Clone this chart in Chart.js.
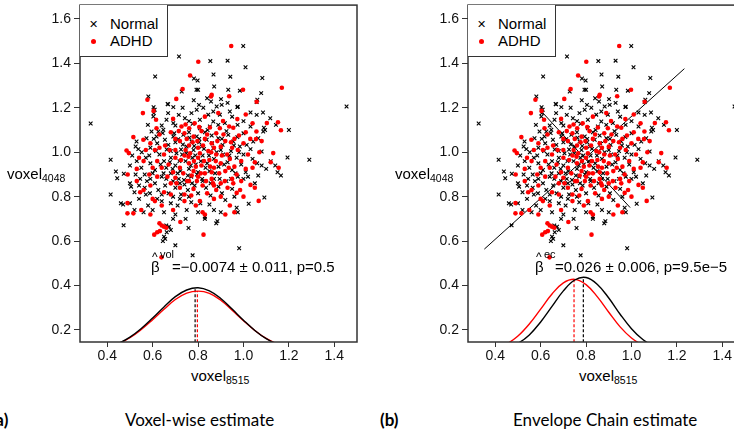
<!DOCTYPE html>
<html lang="en">

<head>
  <meta charset="UTF-8">
  <title>Voxel-wise vs Envelope Chain estimate</title>
  <style>
    body {
      margin: 0;
      width: 734px;
      height: 433px;
      overflow: hidden;
      background: #fff;
      position: relative;
      font-family: "Liberation Sans", Arial, sans-serif;
      color: #000;
    }

    .panel {
      position: absolute;
      top: 0;
      width: 370px;
      height: 362px;
    }

    .txt {
      position: absolute;
      white-space: nowrap;
      line-height: 1;
      font-size: 15px;
    }

    .txt sub {
      font-size: 10.5px;
      vertical-align: -3px;
    }

    .legend {
      position: absolute;
      top: 5px;
      width: 87px;
      height: 51px;
      border: 1.5px solid #333;
      border-left: none;
      border-top: none;
      background: #fff;
      font-size: 15px;
    }

    .legend .row {
      position: absolute;
      left: 6px;
      line-height: 1;
      white-space: nowrap;
    }

    .mk {
      display: inline-block;
      width: 14px;
      text-align: center;
      margin-right: 10px;
      font-size: 11px;
      vertical-align: 1px;
    }

    .dot {
      display: inline-block;
      width: 5px;
      height: 5px;
      border-radius: 50%;
      background: #ff0000;
      vertical-align: 1px;
    }

    .cap {
      position: absolute;
      top: 411px;
      font-family: Lato, sans-serif;
      font-size: 17px;
      line-height: 1;
      white-space: nowrap;
    }
  </style>
  <script src="https://cdn.jsdelivr.net/npm/chart.js"></script>
</head>

<body>
  <div class="panel" style="left:0px"><canvas id="chartA" width="370" height="362"></canvas></div>
  <div class="panel" style="left:388px"><canvas id="chartB" width="370" height="362"></canvas></div>

  <!-- panel (a) texts -->
  <div class="legend" style="left:80px">
    <div class="row" style="top:11px"><span class="mk">&#x2715;</span>Normal</div>
    <div class="row" style="top:28px"><span class="mk"><span class="dot"></span></span>ADHD</div>
  </div>
  <div class="txt" style="left:7px;top:166px">voxel<sub>4048</sub></div>
  <div class="txt" style="left:191px;top:368px">voxel<sub>8515</sub></div>
  <div class="txt" style="left:152px;top:251px;font-size:12px">^</div>
  <div class="txt" style="left:151px;top:259px">β</div>
  <div class="txt" style="left:160px;top:249px;font-size:11px">vol</div>
  <div class="txt" style="left:172px;top:259px">=−0.0074 ± 0.011, p=0.5</div>
  <div class="cap" style="left:-9px;font-weight:bold">(a)</div>
  <div class="cap" style="left:125px">Voxel-wise estimate</div>

  <!-- panel (b) texts -->
  <div class="legend" style="left:468px">
    <div class="row" style="top:11px"><span class="mk">&#x2715;</span>Normal</div>
    <div class="row" style="top:28px"><span class="mk"><span class="dot"></span></span>ADHD</div>
  </div>
  <div class="txt" style="left:395px;top:166px">voxel<sub>4048</sub></div>
  <div class="txt" style="left:579px;top:368px">voxel<sub>8515</sub></div>
  <div class="txt" style="left:536px;top:251px;font-size:12px">^</div>
  <div class="txt" style="left:535px;top:259px">β</div>
  <div class="txt" style="left:544px;top:249px;font-size:11px">ec</div>
  <div class="txt" style="left:555px;top:259px">=0.026 ± 0.006, p=9.5e−5</div>
  <div class="cap" style="left:380px;font-weight:bold">(b)</div>
  <div class="cap" style="left:513px">Envelope Chain estimate</div>

  <script>
    // axis ticks
    const xTicks = [0.4, 0.6, 0.8, 1.0, 1.2, 1.4];
    const yTicks = [0.2, 0.4, 0.6, 0.8, 1.0, 1.2, 1.4, 1.6];

    // scatter points [voxel8515, voxel4048]
    const normalPts = [
      [0.716, 1.431], [0.854, 1.410], [0.930, 1.412], [0.999, 1.478], [1.009, 1.382], [0.611, 1.341], [0.868, 1.350],
      [0.942, 1.340], [1.083, 1.334], [0.782, 1.332], [0.798, 1.323], [0.871, 1.296], [0.800, 1.281], [0.793, 1.281],
      [0.933, 1.281], [0.984, 1.277], [1.078, 1.266], [0.728, 1.273], [0.581, 1.251], [0.840, 1.243], [0.857, 1.228],
      [0.901, 1.239], [0.781, 1.234], [1.061, 1.236], [1.058, 1.226], [0.668, 1.216], [0.804, 1.213], [0.882, 1.206],
      [0.904, 1.213], [0.930, 1.222], [0.975, 1.205],
      [0.604, 1.203], [0.605, 1.176], [0.666, 1.217], [0.691, 1.203], [0.668, 1.176], [0.732, 1.200], [0.771, 1.176],
      [0.794, 1.191], [0.823, 1.200], [0.845, 1.169], [0.867, 1.183], [0.896, 1.169], [0.940, 1.183], [0.973, 1.203],
      [1.031, 1.179], [1.058, 1.168], [1.086, 1.179], [1.118, 1.153], [1.143, 1.123], [1.200, 1.100], [1.087, 1.093],
      [1.031, 1.116], [0.974, 1.123], [0.579, 1.123], [0.603, 1.161], [0.661, 1.146], [0.691, 1.131], [0.742, 1.153],
      [0.808, 1.146], [0.867, 1.138], [0.918, 1.131], [0.808, 1.108], [0.852, 1.116], [0.889, 1.123], [0.776, 1.128],
      [0.647, 1.101], [0.625, 1.093], [0.715, 1.168], [0.609, 1.191], [0.950, 1.160], [1.000, 1.140], [1.090, 1.110],
      [0.525, 1.026], [0.537, 1.014], [0.573, 1.063], [0.529, 1.048], [0.595, 1.093], [0.617, 1.071], [0.644, 1.086],
      [0.654, 1.056], [0.669, 1.033], [0.691, 1.071], [0.713, 1.059], [0.735, 1.078], [0.749, 1.026], [0.771, 1.048],
      [0.794, 1.071], [0.816, 1.026], [0.838, 1.056], [0.867, 1.018], [0.889, 1.063], [0.908, 1.033], [0.933, 1.078],
      [0.955, 1.048], [0.973, 1.068], [0.984, 1.026], [1.014, 1.033], [1.031, 1.014], [1.043, 1.048], [1.065, 1.063],
      [1.080, 1.003], [1.095, 1.100], [0.700, 1.045], [0.725, 1.012], [0.760, 1.090], [0.780, 1.010], [0.830, 1.090],
      [0.860, 1.075], [0.900, 1.010], [0.620, 1.040], [0.590, 1.020], [0.680, 1.005], [0.805, 1.045], [1.000, 1.085],
      [0.945, 1.005],
      [0.415, 0.966], [0.438, 0.913], [0.444, 0.883], [0.473, 0.903], [0.500, 0.940], [0.510, 0.985], [0.530, 0.960],
      [0.550, 0.930], [0.525, 0.900], [0.570, 0.975], [0.590, 0.950], [0.610, 0.920], [0.630, 0.990], [0.650, 0.960],
      [0.660, 0.930], [0.680, 0.975], [0.700, 0.940], [0.710, 0.905], [0.730, 0.990], [0.745, 0.960], [0.760, 0.925],
      [0.775, 0.975], [0.790, 0.945], [0.800, 0.910], [0.820, 0.985], [0.840, 0.950], [0.850, 0.915], [0.870, 0.970],
      [0.890, 0.935], [0.910, 0.990], [0.930, 0.955], [0.950, 0.920], [0.970, 0.975], [0.990, 0.945], [1.010, 0.910],
      [1.040, 0.970], [1.060, 0.950], [1.080, 0.940], [1.100, 0.925], [1.120, 0.960], [1.140, 0.940], [1.150, 0.910],
      [1.165, 0.895], [1.194, 0.976], [1.290, 0.966], [1.000, 0.990], [0.680, 0.905], [0.600, 0.905],
      [0.415, 0.810], [0.500, 0.860], [0.505, 0.845], [0.520, 0.820], [0.540, 0.850], [0.565, 0.840], [0.570, 0.810],
      [0.590, 0.880], [0.610, 0.860], [0.625, 0.830], [0.640, 0.890], [0.655, 0.850], [0.670, 0.815], [0.690, 0.870],
      [0.700, 0.840], [0.715, 0.880], [0.725, 0.810], [0.740, 0.855], [0.755, 0.830], [0.770, 0.890], [0.785, 0.850],
      [0.800, 0.815], [0.820, 0.870], [0.835, 0.840], [0.855, 0.805], [0.870, 0.880], [0.890, 0.845], [0.905, 0.815],
      [0.925, 0.870], [0.950, 0.835], [0.975, 0.890], [1.000, 0.880], [1.020, 0.890], [1.050, 0.860], [1.065, 0.895],
      [0.960, 0.800],
      [1.092, 0.796], [1.023, 0.768], [0.460, 0.770], [0.470, 0.765], [0.500, 0.770], [0.520, 0.740], [0.560, 0.730],
      [0.580, 0.760], [0.600, 0.740], [0.620, 0.790], [0.650, 0.730], [0.680, 0.770], [0.700, 0.720], [0.720, 0.790],
      [0.750, 0.740], [0.770, 0.775], [0.800, 0.730], [0.830, 0.710], [0.850, 0.765], [0.870, 0.740], [0.900, 0.730],
      [0.920, 0.785], [0.975, 0.730], [0.970, 0.750], [0.830, 0.700], [0.640, 0.780],
      [0.880, 0.680], [0.885, 0.690], [0.472, 0.671], [0.758, 0.659], [0.660, 0.670], [0.672, 0.665], [0.680, 0.650],
      [0.650, 0.620], [0.655, 0.610], [0.645, 0.600], [0.662, 0.640], [0.700, 0.581], [0.776, 0.536], [0.981, 0.568],
      [0.327, 1.129], [1.454, 1.206],
      // dense core
      [0.615, 1.005], [0.635, 0.945], [0.648, 0.905], [0.662, 1.012], [0.676, 0.955], [0.688, 0.925], [0.695, 1.085],
      [0.705, 0.995], [0.718, 0.960], [0.722, 0.915], [0.733, 1.035], [0.738, 0.875], [0.748, 0.995], [0.755, 0.895],
      [0.762, 1.065], [0.768, 0.940], [0.773, 0.860], [0.783, 1.028], [0.788, 0.985], [0.795, 0.900], [0.805, 1.060],
      [0.812, 0.960], [0.818, 0.880], [0.826, 1.015], [0.833, 0.930], [0.842, 1.100], [0.848, 0.985], [0.855, 0.860],
      [0.862, 1.040], [0.875, 0.905], [0.882, 1.000], [0.895, 0.880], [0.905, 1.060], [0.915, 0.945], [0.925, 1.095],
      [0.938, 0.985], [0.945, 0.880], [0.958, 1.030], [0.965, 0.905], [0.980, 1.000], [0.565, 0.900], [0.585, 0.985],
      [0.605, 1.060], [0.640, 1.120], [0.700, 1.120], [0.760, 1.140], [0.720, 0.860], [0.660, 0.880], [0.575, 0.870],
      [0.545, 0.880], [0.552, 1.000], [0.710, 0.760], [0.760, 0.800], [0.810, 0.770], [0.640, 0.810], [0.690, 0.800],
      [0.588, 0.815], [0.540, 0.790], [0.745, 0.700], [0.690, 0.700]
    ];

    const adhdPts = [
      [0.946, 1.478], [0.801, 1.407], [0.765, 1.345], [0.732, 1.284], [1.169, 1.290], [0.998, 1.281], [0.860, 1.258],
      [0.704, 1.240], [0.577, 1.236], [0.937, 1.252], [1.058, 1.227], [0.857, 1.251],
      [0.604, 1.186], [0.557, 1.176], [0.615, 1.146], [1.103, 1.131], [1.152, 1.135], [1.165, 1.099], [1.057, 1.093],
      [0.727, 1.116], [0.761, 1.108], [0.805, 1.113], [0.852, 1.111], [0.896, 1.108], [0.937, 1.116], [0.973, 1.149],
      [0.889, 1.176], [0.617, 1.108], [0.745, 1.125], [0.785, 1.130], [0.830, 1.160], [0.910, 1.140], [0.955, 1.110],
      [0.690, 1.150], [1.010, 1.170], [1.040, 1.130],
      [0.515, 1.068], [0.559, 1.056], [0.485, 1.008], [0.495, 0.996], [0.590, 1.040], [0.630, 1.080], [0.680, 1.090],
      [0.720, 1.050], [0.760, 1.030], [0.780, 1.070], [0.800, 1.020], [0.830, 1.060], [0.860, 1.040], [0.880, 1.085],
      [0.920, 1.050], [0.950, 1.020], [0.980, 1.075], [1.010, 1.090], [1.030, 1.060], [1.055, 1.059], [0.700, 1.010],
      [0.740, 1.085], [0.815, 1.095], [0.845, 1.005], [0.900, 1.025], [0.960, 1.060], [0.655, 1.030], [0.610, 1.010],
      [0.750, 1.060], [0.870, 1.020], [1.000, 1.040], [1.080, 1.050],
      [1.131, 0.996], [1.155, 0.930], [1.120, 0.955], [1.050, 0.955], [1.040, 0.930], [0.490, 0.900], [0.530, 0.925],
      [0.540, 0.975], [0.560, 0.960], [0.620, 0.960], [0.650, 0.990], [0.670, 0.945], [0.700, 0.975], [0.720, 0.930],
      [0.740, 0.985], [0.760, 0.950], [0.780, 0.915], [0.800, 0.975], [0.815, 0.940], [0.830, 0.905], [0.850, 0.965],
      [0.870, 0.930], [0.880, 0.990], [0.900, 0.950], [0.920, 0.915], [0.940, 0.970], [0.960, 0.935], [0.990, 0.960],
      [1.010, 0.925], [0.765, 0.995], [0.790, 0.935], [0.860, 0.910], [0.600, 0.930], [0.690, 0.910],
      [1.031, 0.853], [1.050, 0.840], [0.990, 0.870], [0.970, 0.817], [0.530, 0.870], [0.560, 0.830], [0.590, 0.850],
      [0.620, 0.890], [0.650, 0.820], [0.680, 0.860], [0.700, 0.885], [0.720, 0.840], [0.740, 0.810], [0.760, 0.870],
      [0.780, 0.835], [0.800, 0.890], [0.820, 0.850], [0.840, 0.815], [0.860, 0.880], [0.880, 0.830], [0.900, 0.860],
      [0.930, 0.840], [0.950, 0.880], [0.770, 0.805], [0.870, 0.850],
      [1.067, 0.781], [0.489, 0.771], [0.489, 0.725], [0.515, 0.725], [0.550, 0.740], [0.590, 0.720], [0.690, 0.740],
      [0.820, 0.730], [0.830, 0.720], [0.920, 0.720], [0.960, 0.730], [0.600, 0.790], [0.640, 0.760], [0.740, 0.780],
      [0.870, 0.790], [0.790, 0.760],
      [0.607, 0.629], [0.824, 0.629], [0.722, 0.686], [0.630, 0.680], [0.640, 0.670], [0.650, 0.665], [0.620, 0.640],
      [0.632, 0.645], [0.660, 0.660], [0.639, 0.527],
      // dense core
      [0.725, 0.965], [0.735, 0.905], [0.745, 1.010], [0.752, 0.870], [0.758, 0.980], [0.772, 0.895], [0.776, 1.045],
      [0.782, 0.960], [0.795, 0.870], [0.797, 1.050], [0.808, 0.995], [0.812, 0.905], [0.822, 1.030], [0.826, 0.960],
      [0.835, 0.870], [0.840, 1.080], [0.853, 0.935], [0.858, 1.000], [0.866, 0.860], [0.878, 0.960], [0.885, 1.050],
      [0.893, 0.905], [0.905, 0.985], [0.912, 1.080], [0.918, 0.870], [0.928, 0.990], [0.935, 0.930], [0.945, 1.045],
      [0.955, 0.860], [0.970, 0.900], [0.975, 1.010], [0.985, 0.830], [0.700, 1.060], [0.705, 0.860], [0.715, 1.095],
      [0.675, 1.010], [0.665, 0.890], [0.640, 0.930], [0.630, 1.020], [0.585, 0.900], [0.570, 1.010], [0.545, 0.820],
      [0.610, 0.780], [0.680, 0.810], [0.808, 0.780], [0.900, 0.800], [0.940, 0.760], [1.000, 0.800], [1.020, 0.990],
      [1.070, 1.000]
    ];

    // density curves drawn along the bottom of each panel
    const densX = [0.40, 0.45, 0.50, 0.55, 0.60, 0.65, 0.70, 0.75, 0.80, 0.85, 0.90, 0.95, 1.00, 1.05, 1.10, 1.15, 1.20];
    const volNormal = [0.121, 0.140, 0.168, 0.207, 0.254, 0.304, 0.350, 0.380, 0.390, 0.376, 0.342, 0.294, 0.244, 0.198, 0.161, 0.135, 0.115];
    const volAdhd = [0.120, 0.139, 0.165, 0.202, 0.246, 0.293, 0.337, 0.366, 0.375, 0.365, 0.334, 0.289, 0.242, 0.198, 0.162, 0.137, 0.120];
    const ecNormal = [0.108, 0.118, 0.140, 0.178, 0.236, 0.306, 0.376, 0.425, 0.436, 0.405, 0.344, 0.271, 0.206, 0.157, 0.127, 0.111, 0.104];
    const ecAdhd = [0.117, 0.137, 0.173, 0.227, 0.294, 0.362, 0.412, 0.428, 0.404, 0.349, 0.280, 0.214, 0.164, 0.132, 0.114, 0.106, 0.102];

    // group means (dashed) : [x, peak height]
    const volMeans = { normal: [0.787, 0.390], adhd: [0.797, 0.375] };
    const ecMeans = { normal: [0.788, 0.437], adhd: [0.747, 0.428] };

    // envelope directions in panel (b)
    const ecLong = [[0.352, 0.564], [1.233, 1.376]];
    const ecShort = [[0.597, 1.191], [0.994, 0.751]];

    const curve = (ys, color) => ({
      type: 'line',
      data: densX.map((x, i) => ({ x: x, y: ys[i] })),
      borderColor: color,
      borderWidth: 1.4,
      pointRadius: 0,
      tension: 0.4,
      order: 3
    });

    const segment = (pts, color, dash) => ({
      type: 'line',
      data: pts.map(p => ({ x: p[0], y: p[1] })),
      borderColor: color,
      borderWidth: dash ? 1.2 : 1,
      borderDash: dash ? [3, 2] : [],
      pointRadius: 0,
      order: 3
    });

    const meanLine = (m, color) => segment([[m[0], 0.1], [m[0], m[1]]], color, true);

    // full box round the plot, like R's bty="o"
    const boxPlugin = {
      id: 'box',
      afterDraw(chart) {
        const a = chart.chartArea;
        const ctx = chart.ctx;
        ctx.save();
        ctx.strokeStyle = '#333';
        ctx.lineWidth = 1.5;
        ctx.strokeRect(a.left, a.top, a.right - a.left, a.bottom - a.top);
        ctx.restore();
      }
    };

    function makePanel(id, extra) {
      return new Chart(document.getElementById(id), {
        type: 'scatter',
        data: {
          datasets: [
            {
              label: 'ADHD',
              data: adhdPts,
              pointStyle: 'circle',
              pointRadius: 2.3,
              backgroundColor: '#ff0000',
              borderWidth: 0,
              order: 0
            },
            {
              label: 'Normal',
              data: normalPts,
              pointStyle: 'crossRot',
              pointRadius: 2.6,
              borderColor: '#000',
              borderWidth: 1.1,
              order: 1
            }
          ].concat(extra)
        },
        options: {
          responsive: false,
          animation: false,
          layout: { padding: { top: 5, right: 13, left: 0, bottom: 0 } },
          plugins: {
            legend: { display: false },
            tooltip: { enabled: false }
          },
          scales: {
            x: {
              type: 'linear',
              min: 0.28,
              max: 1.5,
              afterBuildTicks: s => { s.ticks = xTicks.map(v => ({ value: v })); },
              afterFit: s => { s.height = 20; s.paddingLeft = 0; s.paddingRight = 0; },
              ticks: {
                color: '#111',
                font: { family: 'Liberation Sans', size: 14 },
                padding: 1,
                maxRotation: 0,
                callback: v => v.toFixed(1)
              },
              grid: { drawOnChartArea: false, drawTicks: true, tickLength: 5, color: '#333' },
              border: { display: false }
            },
            y: {
              type: 'linear',
              min: 0.146,
              max: 1.662,
              afterBuildTicks: s => { s.ticks = yTicks.map(v => ({ value: v })); },
              afterFit: s => { s.width = 80; s.paddingTop = 0; s.paddingBottom = 0; },
              ticks: {
                color: '#111',
                font: { family: 'Liberation Sans', size: 14 },
                padding: 3,
                callback: v => v.toFixed(1)
              },
              grid: { drawOnChartArea: false, drawTicks: true, tickLength: 6, color: '#333' },
              border: { display: false }
            }
          }
        },
        plugins: [boxPlugin]
      });
    }

    makePanel('chartA', [
      curve(volNormal, '#000'),
      curve(volAdhd, '#ff0000'),
      meanLine(volMeans.normal, '#000'),
      meanLine(volMeans.adhd, '#ff0000')
    ]);

    makePanel('chartB', [
      segment(ecLong, '#000', false),
      segment(ecShort, '#000', false),
      curve(ecNormal, '#000'),
      curve(ecAdhd, '#ff0000'),
      meanLine(ecMeans.normal, '#000'),
      meanLine(ecMeans.adhd, '#ff0000')
    ]);
  </script>
</body>

</html>
